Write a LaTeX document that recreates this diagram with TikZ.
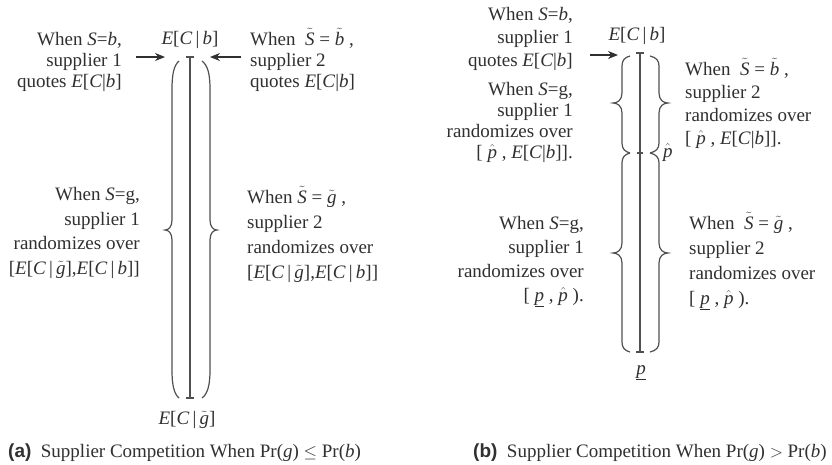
\documentclass[tikz,border=0pt]{standalone}
\usepackage{fontspec}
\setmainfont{Liberation Serif}
\newfontfamily\capsans{Liberation Sans}
\usetikzlibrary{arrows.meta}
\definecolor{ink}{HTML}{303030}
\definecolor{rulec}{HTML}{505050}
\newcommand{\vi}[1]{\textit{#1}}
\newcommand{\ECb}{\vi{E}[\vi{C}\,|\,\vi{b}]}
\newcommand{\ECbt}{\vi{E}[\vi{C}|\vi{b}]}
\newcommand{\ECg}{\vi{E}[\vi{C}\,|\,$\tilde{\vi{g}}$]}
\newcommand{\tS}{$\tilde{\vi{S}}$}
\newcommand{\tb}{$\tilde{\vi{b}}$}
\newcommand{\tg}{$\tilde{\vi{g}}$}
\newcommand{\ph}{$\hat{\vi{p}}$}
\newcommand{\pl}{$\underline{\vi{p}}$}
\newcommand{\lb}{{[}}
% xe xv xt yt yb ym c
\newcommand{\vbrace}[7]{%
  \draw[bracestyle] (#1,#4)
    .. controls ({#2+0.3*(#1-#2)},{#4+0.15*#7}) and (#2,{#4+0.45*#7}) .. (#2,{#4+#7})
    -- (#2,{#6-10})
    .. controls (#2,{#6-3}) and ({#3+0.5*(#2-#3)},#6) .. (#3,#6)
    .. controls ({#3+0.5*(#2-#3)},#6) and (#2,{#6+3}) .. (#2,{#6+10})
    -- (#2,{#5-#7})
    .. controls (#2,{#5-0.45*#7}) and ({#2+0.3*(#1-#2)},{#5-0.15*#7}) .. (#1,#5);}
\tikzset{
  txt/.style={inner sep=0pt, text=ink},
  fs/.style={font=\fontsize{19}{#1}\selectfont},
  lt/.style={txt, align=right, anchor=base east},
  rt/.style={txt, align=left, anchor=base west},
  lbl/.style={txt, anchor=base, font=\fontsize{19}{22}\selectfont},
  bracestyle/.style={draw=rulec, line width=1.2pt},
  axisline/.style={draw=rulec, line width=1.2pt},
  tick/.style={draw=rulec, line width=1.2pt},
  arr/.style={draw=ink, line width=1.3pt, -{Stealth[length=10pt,width=8pt]}},
}
\begin{document}
\begin{tikzpicture}[x=1pt,y=-1pt]
\useasboundingbox[fill=white] (0,0) rectangle (832,464);

% ---------- panel (a) ----------
\coordinate (aT) at (190,57);
\coordinate (aB) at (190,398);
\draw[axisline] (aT) -- (aB);
\draw[tick] ([xshift=-4pt]aT) -- ([xshift=4pt]aT);
\draw[tick] ([xshift=-4pt]aB) -- ([xshift=4pt]aB);
\vbrace{179}{172}{165}{61}{398}{230}{28}
\vbrace{202}{210}{217}{61}{398}{230}{28}

\node[lbl] (atop) at (190,44) {\ECb};
\node[lbl] (abot) at (187,424) {\ECg};

\node[lt, fs=21] (a1) at (122,87) {When \vi{S}=\vi{b},\\ supplier 1\\ quotes \ECbt};
\node[rt, fs=21] (a2) at (250,87) {When\ \ \tS{} = \tb{} ,\\ supplier 2\\ quotes \ECbt};
\node[lt, fs=24.5] (a3) at (140,274) {When \vi{S}=g,\\ supplier 1\\ randomizes over\\ \lb\vi{E}[\vi{C}\,|\,\tg],\vi{E}[\vi{C}\,|\,\vi{b}]]};
\node[rt, fs=25] (a4) at (247,278) {When \tS{} = \tg{} ,\\ supplier 2\\ randomizes over\\ \lb\vi{E}[\vi{C}\,|\,\tg],\vi{E}[\vi{C}\,|\,\vi{b}]]};

\coordinate (aLs) at (136,57);
\coordinate (aLe) at (165,57);
\coordinate (aRs) at (241,57);
\coordinate (aRe) at (210,57);
\draw[arr] (aLs) -- (aLe);
\draw[arr] (aRs) -- (aRe);

\node[txt, anchor=base west, font=\fontsize{19}{22}\selectfont] (acap) at (8,457)
  {{\capsans\bfseries (a)}\ \ Supplier Competition When Pr(\vi{g}) $\le$ Pr(\vi{b})};

% ---------- panel (b) ----------
\coordinate (bT) at (640,53);
\coordinate (bM) at (640,153);
\coordinate (bB) at (640,352);
\draw[axisline] (bT) -- (bB);
\draw[tick] ([xshift=-4pt]bT) -- ([xshift=4pt]bT);
\draw[tick] ([xshift=-3pt]bM) -- ([xshift=3pt]bM);
\draw[tick] ([xshift=-4pt]bB) -- ([xshift=4pt]bB);
\vbrace{630}{622}{613}{56}{153}{103}{10}
\vbrace{630}{622}{613}{153}{352}{253}{10}
\vbrace{650}{659}{668}{56}{153}{103}{10}
\vbrace{650}{659}{668}{153}{352}{253}{10}

\node[lbl] (btop) at (637,40) {\ECb};
\node[txt, anchor=base west, font=\fontsize{19}{22}\selectfont] (phat) at (663,157) {\ph};
\node[lbl] (plow) at (641,374) {\pl};

\node[lt, fs=23] (b1) at (573,66) {When \vi{S}=\vi{b},\\ supplier 1\\ quotes \ECbt};
\node[lt, fs=21] (b2) at (573,158) {When \vi{S}=g,\\ supplier 1\\ randomizes over\\ \lb{} \ph{} , \ECbt].};
\node[rt, fs=23] (b3) at (685,144) {When\ \ \tS{} = \tb{} ,\\ supplier 2\\ randomizes over\\ \lb{} \ph{} , \ECbt].};
\node[lt, fs=24] (b4) at (584,301) {When \vi{S}=g,\\ supplier 1\\ randomizes over\\ \lb{} \pl{} , \ph{} ).};
\node[rt, fs=25] (b5) at (689,304) {When\ \ \tS{} = \tg{} ,\\ supplier 2\\ randomizes over\\ \lb{} \pl{} , \ph{} ).};

\coordinate (bLs) at (590,55);
\coordinate (bLe) at (618,55);
\draw[arr] (bLs) -- (bLe);

\node[txt, anchor=base west, font=\fontsize{19}{22}\selectfont] (bcap) at (473,457)
  {{\capsans\bfseries (b)}\ \ Supplier Competition When Pr(\vi{g}) $>$ Pr(\vi{b})};
\end{tikzpicture}
\end{document}
